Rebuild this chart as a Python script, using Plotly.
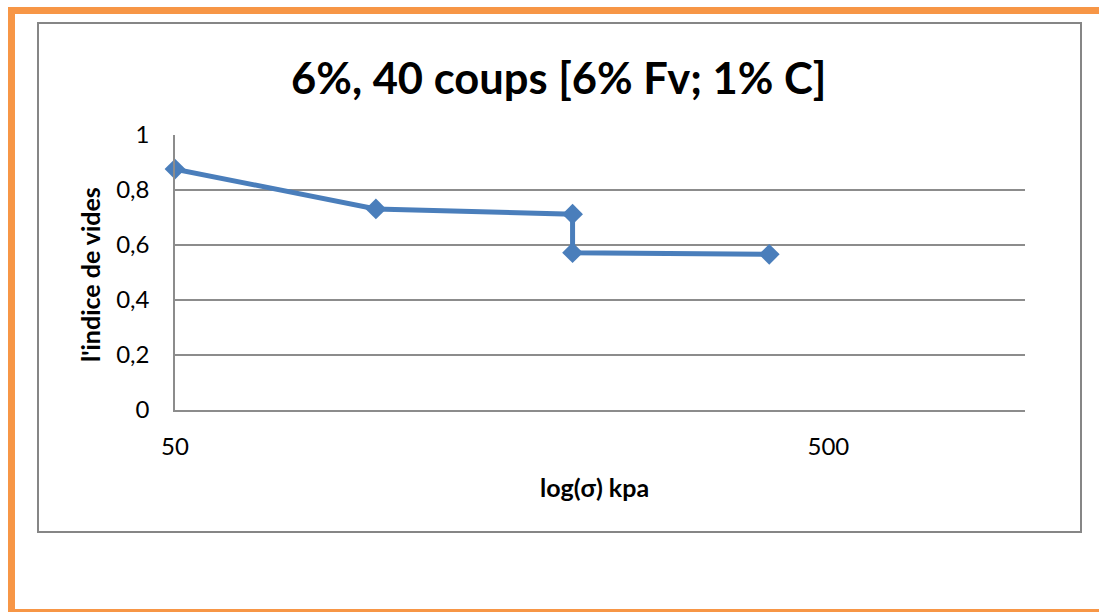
import plotly.graph_objects as go

# Oedometer test: void ratio vs. applied stress (log scale)
stress_kpa = [50, 101.5, 203, 203, 406]
void_ratio = [0.876, 0.731, 0.712, 0.572, 0.566]

y_tickvals = [0, 0.2, 0.4, 0.6, 0.8, 1]
y_ticktext = ["0", "0,2", "0,4", "0,6", "0,8", "1"]
x_tickvals = [50, 500]
x_ticktext = ["50", "500"]

W, H = 1099, 612
PL, PR, PT, PB = 175, 1025, 135, 410  # plot area in pixels


def px(x):
    return (x - PL) / (PR - PL)


def py(y):
    return (PB - y) / (PB - PT)


ORANGE = "#f79646"
GRID = "#8c8c8c"
BLUE = "#4a7ebb"
FONT = "Lato"

fig = go.Figure()
fig.add_trace(go.Scatter(
    x=stress_kpa, y=void_ratio, mode="lines+markers",
    line=dict(color=BLUE, width=5),
    marker=dict(symbol="diamond", size=16, color=BLUE),
    showlegend=False, cliponaxis=False,
))

shapes = [
    # page frame
    dict(type="rect", xref="paper", yref="paper", x0=px(8), x1=px(1099), y0=py(7), y1=py(14),
         fillcolor=ORANGE, line_width=0, layer="below"),
    dict(type="rect", xref="paper", yref="paper", x0=px(8), x1=px(15), y0=py(7), y1=py(612),
         fillcolor=ORANGE, line_width=0, layer="below"),
    dict(type="rect", xref="paper", yref="paper", x0=px(8), x1=px(1099), y0=py(609), y1=py(612),
         fillcolor=ORANGE, line_width=0, layer="below"),
    # chart border
    dict(type="rect", xref="paper", yref="paper", x0=px(38), x1=px(1081), y0=py(23), y1=py(532),
         line=dict(color="#868686", width=2), fillcolor="rgba(0,0,0,0)", layer="below"),
]

annotations = [
    dict(text="<b>6%, 40 coups [6% Fv; 1% C]</b>", xref="paper", yref="paper",
         x=px(558), y=py(77), xanchor="center", yanchor="middle", showarrow=False,
         font=dict(family=FONT, size=43.5, color="black")),
    dict(text="<b>log(σ) kpa</b>", xref="paper", yref="paper",
         x=px(594), y=py(487), xanchor="center", yanchor="middle", showarrow=False,
         font=dict(family=FONT, size=25, color="black")),
    dict(text="<b>l'indice de vides</b>", xref="paper", yref="paper",
         x=px(90), y=py(275), xanchor="center", yanchor="middle", showarrow=False,
         textangle=-90, font=dict(family=FONT, size=25, color="black")),
]

fig.update_layout(
    width=W, height=H,
    margin=dict(l=PL, r=W - PR, t=PT, b=H - PB, pad=0),
    paper_bgcolor="white", plot_bgcolor="white",
    font=dict(family=FONT, size=24, color="black"),
    shapes=shapes, annotations=annotations,
    xaxis=dict(type="log", range=[1.69897, 3.0], tickmode="array",
               tickvals=x_tickvals, ticktext=x_ticktext, showgrid=False,
               showline=True, linecolor=GRID, linewidth=1.5, zeroline=False,
               ticks="", ticklabelstandoff=14),
    yaxis=dict(range=[0, 1], tickmode="array", tickvals=y_tickvals, ticktext=y_ticktext,
               showgrid=True, gridcolor=GRID, gridwidth=1.5,
               showline=True, linecolor=GRID, linewidth=1.5, zeroline=False,
               ticks="", ticklabelstandoff=19),
)

fig.write_html("out.html")
